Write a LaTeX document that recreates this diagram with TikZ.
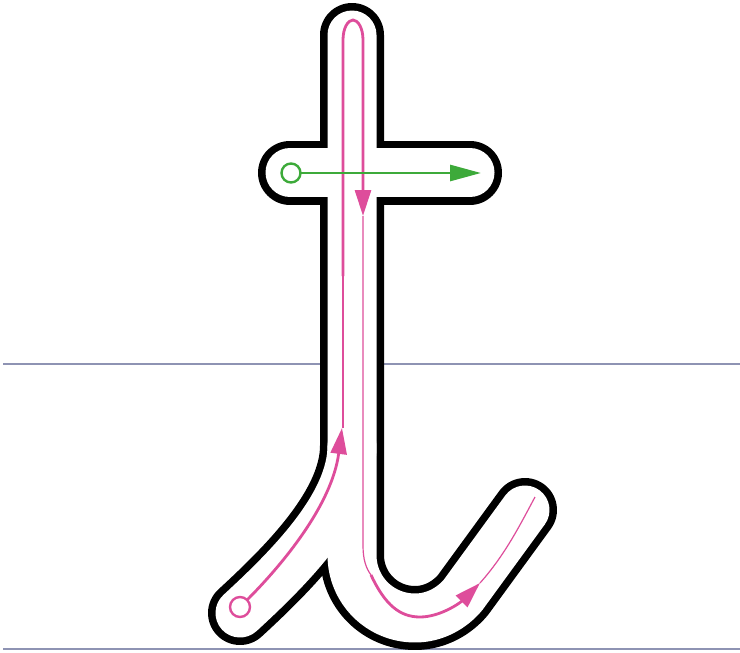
\documentclass[tikz,border=0pt]{standalone}
\usepackage{tikz}
\usetikzlibrary{arrows.meta}
\definecolor{ruleblue}{HTML}{8E93B3}
\definecolor{tracepink}{HTML}{DE4D9B}
\definecolor{tracegreen}{HTML}{3DAA3A}
\tikzset{
  ruleline/.style={ruleblue, line width=2.2pt},
  letterout/.style={black, line width=64pt, line cap=round, line join=round},
  letterin/.style={white, line width=49pt, line cap=round, line join=round},
  tracethick/.style={tracepink, line width=2.8pt},
  tracethin/.style={tracepink, line width=1.2pt},
  tracearrow/.style={-{Triangle[length=26pt, width=16pt]}},
  startdot/.style={line width=2.4pt, fill=white},
}

\begin{document}
\begin{tikzpicture}[x=1pt, y=-1pt]
  \useasboundingbox (0,0) rectangle (740,653);

  % writing lines
  \draw[ruleline] (3,364) -- (740,364);
  \draw[ruleline, line width=2.8pt] (3,649) -- (740,649);

  % letter body: black outline first, then white inside
  \draw[letterout] (290,172.5) -- (470,172.5);
  \draw[letterout] (352,35) -- (352,555) .. controls (352,590) and (380,618) .. (415,618)
    .. controls (435,618) and (452,608) .. (463,595) -- (525,510);
  \draw[letterout] (352,446) .. controls (352,505) and (290,567) .. (240,613);
  \draw[letterin] (290,172.5) -- (470,172.5);
  \draw[letterin] (352,35) -- (352,555) .. controls (352,590) and (380,618) .. (415,618)
    .. controls (435,618) and (452,608) .. (463,595) -- (525,510);
  \draw[letterin] (352,446) .. controls (352,505) and (290,567) .. (240,613);

  % start points
  \coordinate (pinkstart) at (240,607);
  \coordinate (greenstart) at (291,173);

  % pink stroke: up, over the top, down and round the hook
  \draw[tracethick, tracearrow] ([shift={(7,-7)}]pinkstart) .. controls (282,565) and (332,505) .. (342,428);
  \draw[tracethin] (343,428) -- (343,275);
  \draw[tracethick, tracearrow] (343,276) -- (343,40) .. controls (343,28) and (348,20) .. (353,20)
    .. controls (358,20) and (363,28) .. (363,40) -- (363,216);
  \draw[tracethin] (363,216) -- (363,545) .. controls (363,560) and (366,568) .. (371,575);
  \draw[tracethick, tracearrow] (371,575) .. controls (385,605) and (400,617) .. (420,617)
    .. controls (440,617) and (460,603) .. (480,583);
  \draw[tracethin] (480,583) .. controls (505,555) and (520,525) .. (535,497);
  \draw[tracepink, startdot] (pinkstart) circle (10);

  % green stroke across
  \draw[tracegreen, line width=2.8pt, -{Triangle[length=31pt, width=16pt]}] ([xshift=9.5]greenstart) -- (481,173);
  \draw[tracegreen, startdot] (greenstart) circle (9.5);
\end{tikzpicture}
\end{document}
